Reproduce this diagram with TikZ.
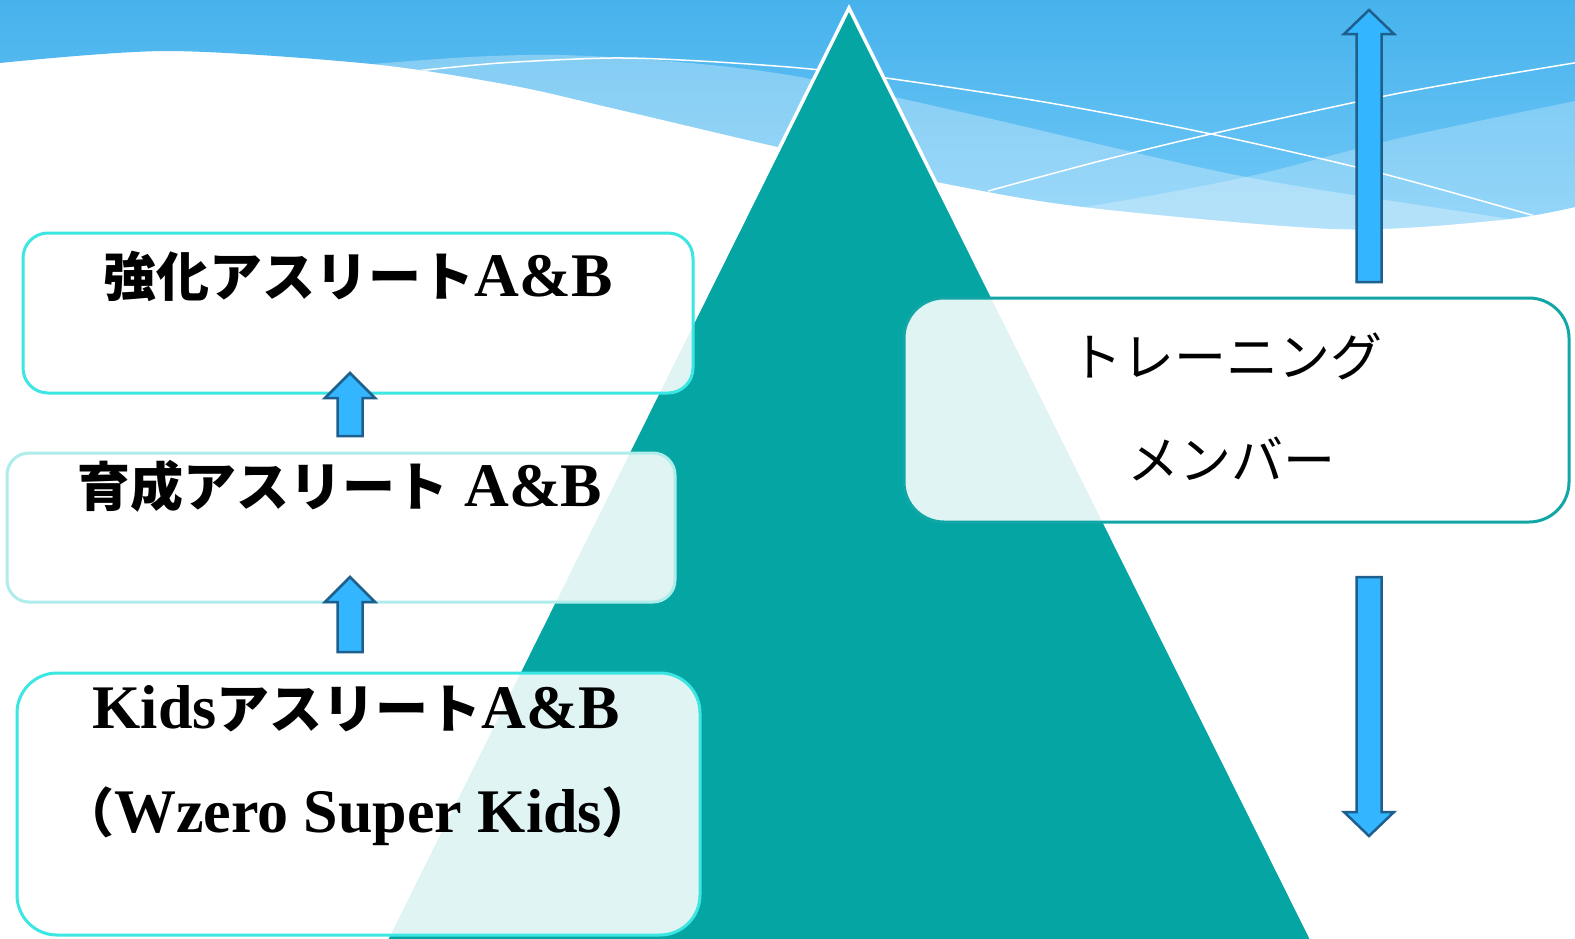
\documentclass[tikz,border=0pt]{standalone}
\usepackage{fontspec}
\newfontfamily\jpf{Noto Sans CJK JP}
\newfontfamily\lsf{Liberation Serif}
\newcommand\jpx[1]{{\jpf\bfseries\fontsize{53}{60}\selectfont #1}}
\newcommand\lax[1]{{\lsf\bfseries\fontsize{62}{70}\selectfont #1}}
\newcommand\jpr[1]{{\jpf\fontsize{52}{60}\selectfont #1}}
\definecolor{wtop}{HTML}{46B2EC}
\definecolor{wbot}{HTML}{74CAF8}
\definecolor{tealc}{HTML}{04A5A2}
\definecolor{cyanb}{HTML}{3CE6E2}
\definecolor{paleb}{HTML}{AEEDEC}
\definecolor{tealb}{HTML}{12A7A6}
\definecolor{arrf}{HTML}{33B5FF}
\definecolor{arrd}{HTML}{1E5F8C}
\begin{document}
\begin{tikzpicture}[x=1pt,y=-1pt,
  boxstyle/.style={draw, line width=3pt, fill=white, fill opacity=0.88, inner sep=0pt, rectangle},
  blockarrow/.style={fill=arrf, draw=arrd, line width=2.5pt, line join=miter},
  wline/.style={white, line width=1.5pt}]
\useasboundingbox (0,0) rectangle (1575,938);
\fill[white] (0,0) rectangle (1575,938);
% sky band
\begin{scope}
\clip (-2,-2) -- (1577,-2) -- (1577,207) -- plot[smooth] coordinates {(1575,207) (1500,220) (1338,229) (1084,207) (937,182) (778,147) (612,108) (510,85) (372,64) (168,51) (0,63)} -- (-2,63) -- cycle;
\shade[top color=wtop, bottom color=wbot] (-2,-2) rectangle (1577,240);
\fill[white, fill opacity=0.3] plot[smooth] coordinates {(372,64) (470,57) (561,55) (680,62) (800,77) (983,117) (1246,177) (1515,220) (1580,236)} -- (1580,400) -- (372,400) -- cycle;
\fill[white, fill opacity=0.25] plot[smooth] coordinates {(1580,100) (1400,138) (1246,177) (1084,207) (950,222)} -- (950,400) -- (1580,400) -- cycle;
\draw[wline] plot[smooth] coordinates {(416,71) (500,63) (612,58) (700,61) (800,68) (886,78) (1050,103) (1211,134) (1380,173) (1535,216)};
\draw[wline] plot[smooth] coordinates {(988,191) (1100,161) (1211,134) (1400,93) (1580,62)};
\end{scope}
% pyramid
\draw[white, line width=3.5pt, fill=tealc, line join=miter] (849,8) -- (1322,960) -- (376,960) -- cycle;
% boxes
\node[boxstyle, draw=cyanb, rounded corners=25pt, minimum width=670pt, minimum height=160pt] (b1) at (358,313) {};
\node[boxstyle, draw=paleb, rounded corners=22pt, minimum width=668pt, minimum height=149pt] (b2) at (341,527.5) {};
\node[boxstyle, draw=cyanb, rounded corners=40pt, minimum width=683pt, minimum height=262pt] (b3) at (358.5,804) {};
\node[boxstyle, draw=tealb, rounded corners=40pt, minimum width=665pt, minimum height=224pt] (b4) at (1236.5,410) {};
% texts
\node[anchor=base, inner sep=0pt] (t1) at (358,296) {\jpx{強化アスリート}\lax{A\&B}};
\node[anchor=base, inner sep=0pt] (t2) at (340,506) {\jpx{育成アスリート}\lax{ A\&B}};
\node[anchor=base, inner sep=0pt] (t3) at (356,728) {\lax{Kids}\jpx{アスリート}\lax{A\&B}};
\node[anchor=base, inner sep=0pt] (t4) at (358,832) {\jpx{（}\lax{Wzero Super Kids}\jpx{）}};
\node[anchor=base, inner sep=0pt] (t5) at (1226,376) {\jpr{トレーニング}};
\node[anchor=base, inner sep=0pt] (t6) at (1231,479) {\jpr{メンバー}};
% block arrows
\draw[blockarrow] (350,373) -- (375,398) -- (362.5,398) -- (362.5,436) -- (337.5,436) -- (337.5,398) -- (325,398) -- cycle;
\draw[blockarrow] (350,577) -- (375,602) -- (362.5,602) -- (362.5,652) -- (337.5,652) -- (337.5,602) -- (325,602) -- cycle;
\draw[blockarrow] (1369,10) -- (1394,34) -- (1381.5,34) -- (1381.5,282) -- (1356.5,282) -- (1356.5,34) -- (1344,34) -- cycle;
\draw[blockarrow] (1369,836) -- (1394,812) -- (1381.5,812) -- (1381.5,577) -- (1356.5,577) -- (1356.5,812) -- (1344,812) -- cycle;
\end{tikzpicture}
\end{document}
